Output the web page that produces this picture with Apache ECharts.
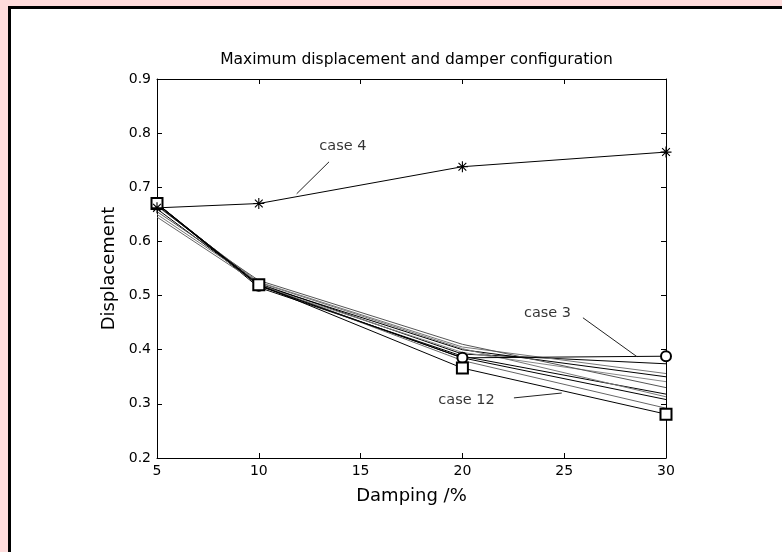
<!DOCTYPE html>
<html>
<head>
<meta charset="utf-8">
<script src="https://cdn.jsdelivr.net/npm/echarts@6/dist/echarts.min.js"></script>
<style>
  html, body { margin: 0; padding: 0; background: #ffdcdc; overflow: hidden; }
  .frame {
    position: absolute; left: 8px; top: 6px; width: 800px; height: 600px;
    border: 3px solid #000; background: #fff;
  }
  #chart { position: absolute; left: 0; top: 0; width: 782px; height: 552px; }
</style>
</head>
<body>
<div class="frame"></div>
<div id="chart"></div>
<script>
// damping values (x)
const damping = [5, 10, 20, 30];

// displacement per case
const case4 = [0.662, 0.670, 0.738, 0.765];
const case3 = [0.670, 0.518, 0.385, 0.388];
const case12 = [0.670, 0.520, 0.366, 0.281];
const otherCases = [
  [0.668, 0.522, 0.392, 0.374],
  [0.665, 0.525, 0.405, 0.356],
  [0.660, 0.520, 0.400, 0.350],
  [0.668, 0.518, 0.395, 0.341],
  [0.655, 0.528, 0.410, 0.330],
  [0.670, 0.515, 0.388, 0.318],
  [0.650, 0.524, 0.402, 0.313],
  [0.667, 0.519, 0.385, 0.308],
  [0.645, 0.521, 0.380, 0.292]
];
const otherColors = ["#000", "#777", "#000", "#888", "#555", "#000", "#777", "#000", "#666"];

// tick labels
const xTicks = [5, 10, 15, 20, 25, 30];
const yTicks = [0.2, 0.3, 0.4, 0.5, 0.6, 0.7, 0.8, 0.9];

// annotations (data coords)
const notes = [
  { text: "case 4", at: [14.13, 0.776], from: [13.45, 0.747], to: [11.86, 0.688] },
  { text: "case 3", at: [24.18, 0.467], from: [25.92, 0.459], to: [28.58, 0.387] },
  { text: "case 12", at: [20.2, 0.307], from: [22.53, 0.311], to: [24.88, 0.320] }
];

const font = "'DejaVu Sans', sans-serif";
const star = "path://M-0.6,-6h1.2v12h-1.2z M-6,-0.6h12v1.2h-12z M-4.67,-3.82l0.85,-0.85l8.49,8.49l-0.85,0.85z M3.82,-4.67l0.85,0.85l-8.49,8.49l-0.85,-0.85z";

const pairs = (ys) => damping.map((x, i) => [x, ys[i]]);

const series = [];
otherCases.forEach((ys, i) => {
  series.push({
    type: "line", data: pairs(ys), symbol: "none",
    lineStyle: { color: otherColors[i], width: 1 }, silent: true
  });
});
series.push({
  name: "case 3", type: "line", data: pairs(case3),
  symbol: "emptyCircle", symbolSize: 10,
  itemStyle: { color: "#000", borderWidth: 0.8 },
  lineStyle: { color: "#000", width: 1 }
});
series.push({
  name: "case 12", type: "line", data: pairs(case12),
  symbol: "emptyRect", symbolSize: 11,
  itemStyle: { color: "#000", borderWidth: 0.8 },
  lineStyle: { color: "#000", width: 1 }
});
series.push({
  name: "case 4", type: "line", data: pairs(case4),
  symbol: star, symbolSize: 11,
  itemStyle: { color: "#000" },
  lineStyle: { color: "#000", width: 1 }
});
// leader lines
notes.forEach((n) => {
  series.push({
    type: "line", data: [n.from, n.to], symbol: "none", silent: true,
    lineStyle: { color: "#222", width: 1 }
  });
});
// annotation text
series.push({
  type: "scatter", symbolSize: 0, silent: true,
  data: notes.map((n) => ({ value: n.at, name: n.text })),
  label: {
    show: true, position: "inside", formatter: "{b}",
    fontFamily: font, fontSize: 14.5, color: "#000"
  }
});

const valueAxisX = (pos, show) => ({
  type: "value", position: pos, min: 5, max: 30, interval: 5,
  axisLine: { show: true, onZero: false, lineStyle: { color: "#000", width: 1 } },
  axisTick: { show: true, inside: true, length: 5, lineStyle: { color: "#000" } },
  axisLabel: {
    show: show, margin: 6, fontFamily: font, fontSize: 14, color: "#000",
    formatter: (v) => (xTicks.includes(v) ? String(v) : "")
  },
  splitLine: { show: false }
});
const valueAxisY = (pos, show) => ({
  type: "value", position: pos, min: 0.2, max: 0.9, interval: 0.1,
  axisLine: { show: true, onZero: false, lineStyle: { color: "#000", width: 1 } },
  axisTick: { show: true, inside: true, length: 5, lineStyle: { color: "#000" } },
  axisLabel: {
    show: show, margin: 6, fontFamily: font, fontSize: 14, color: "#000",
    formatter: (v) => {
      const t = yTicks.find((y) => Math.abs(y - v) < 1e-6);
      return t === undefined ? "" : t.toFixed(1);
    }
  },
  splitLine: { show: false }
});

const xMain = valueAxisX("bottom", true);
xMain.name = "Damping /%";
xMain.nameLocation = "middle";
xMain.nameGap = 29;
xMain.nameTextStyle = { fontFamily: font, fontSize: 18, color: "#000" };

const yMain = valueAxisY("left", true);
yMain.name = "Displacement";
yMain.nameLocation = "middle";
yMain.nameGap = 30;
yMain.nameTextStyle = { fontFamily: font, fontSize: 18, color: "#000" };

const chart = echarts.init(document.getElementById("chart"), null, { renderer: "canvas" });
chart.setOption({
  animation: false,
  title: {
    text: "Maximum displacement and damper configuration",
    left: 411.5, top: 47, textAlign: "center",
    textStyle: { fontFamily: font, fontSize: 15.5, fontWeight: "normal", color: "#000" }
  },
  grid: { left: 157, top: 79, width: 509, height: 379, containLabel: false },
  xAxis: [xMain, valueAxisX("top", false)],
  yAxis: [yMain, valueAxisY("right", false)],
  series: series
});
</script>
</body>
</html>
